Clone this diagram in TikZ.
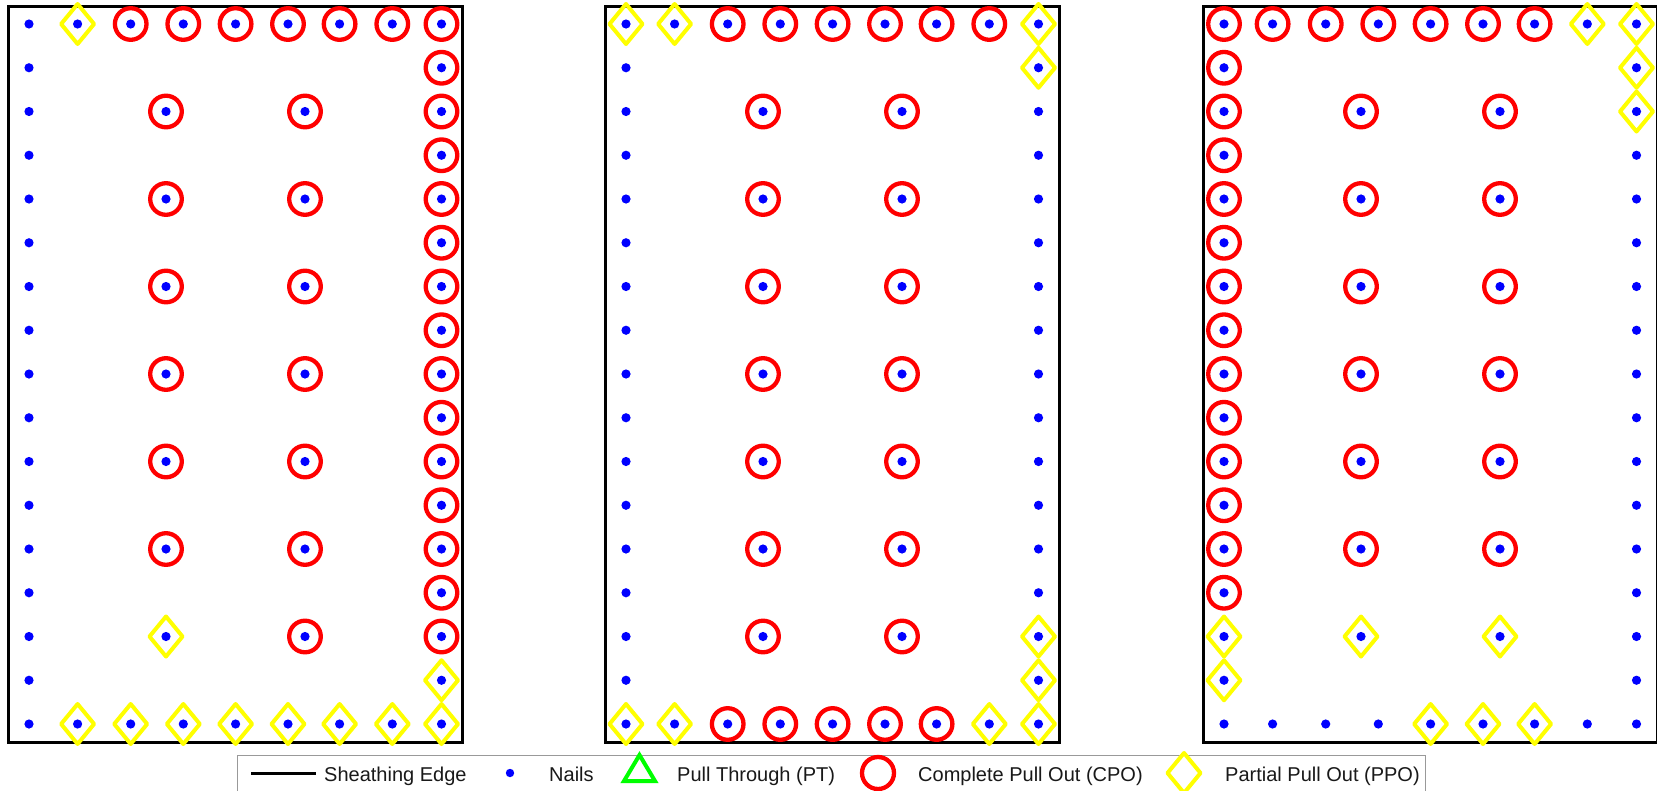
\documentclass[tikz,border=0pt]{standalone}
\usepackage{fontspec}
\setmainfont{Liberation Sans}
\usepackage{tikz}
\usetikzlibrary{positioning}
\usepackage{xcolor}
\definecolor{nailblue}{HTML}{0000FF}
\definecolor{cpored}{HTML}{FF0000}
\definecolor{ppoyellow}{HTML}{FFFF00}
\definecolor{ptgreen}{HTML}{00FF00}

\tikzset{
  sheathing/.style={draw=black, line width=3pt},
  nail/.style={fill=nailblue},
  cpo/.style={draw=cpored, line width=4.3pt},
  ppo/.pic={\draw[ppoyellow, line width=4pt, line join=round] (0,-20) -- (16.5,0) -- (0,20) -- (-16.5,0) -- cycle;},
  legtext/.style={anchor=base west, inner sep=0pt, text=black!90, font=\fontsize{20}{24}\selectfont},
}

\begin{document}
\begin{tikzpicture}[x=1pt, y=-1pt]
\useasboundingbox (0,0) rectangle (1657,790);

% three sheathing panels with their nail grid
\foreach \p/\x in {a/8, b/605, c/1203}{
  \draw[sheathing] (\x,6) rectangle ++(454,736);
  \foreach \i/\cx in {0/21,1/69.6,2/122.7,3/175.3,4/227.6,5/280,6/331.6,7/384.3,8/433.5}{
    \foreach \j in {0,...,16}
      \coordinate (\p-\i-\j) at (\x+\cx, 24+43.75*\j);
  }
  \foreach \i/\cx in {u/158, v/297}{
    \foreach \j in {2,4,...,14}
      \coordinate (\p-\i-\j) at (\x+\cx, 24+43.75*\j);
  }
}

% panel a
\foreach \i in {2,...,8} \draw[cpo] (a-\i-0) circle (15.8);
\foreach \j in {1,...,14} \draw[cpo] (a-8-\j) circle (15.8);
\foreach \j in {2,4,...,12} \draw[cpo] (a-u-\j) circle (15.8);
\foreach \j in {2,4,...,14} \draw[cpo] (a-v-\j) circle (15.8);
\foreach \c in {a-1-0, a-8-15, a-u-14} \pic at (\c) {ppo};
\foreach \i in {1,...,8} \pic at (a-\i-16) {ppo};

% panel b
\foreach \i in {2,...,7} \draw[cpo] (b-\i-0) circle (15.8);
\foreach \i in {2,...,6} \draw[cpo] (b-\i-16) circle (15.8);
\foreach \j in {2,4,...,14} {
  \draw[cpo] (b-u-\j) circle (15.8);
  \draw[cpo] (b-v-\j) circle (15.8);
}
\foreach \c in {b-0-0, b-1-0, b-8-0, b-8-1, b-8-14, b-8-15, b-0-16, b-1-16, b-7-16, b-8-16}
  \pic at (\c) {ppo};

% panel c
\foreach \i in {0,...,6} \draw[cpo] (c-\i-0) circle (15.8);
\foreach \j in {1,...,13} \draw[cpo] (c-0-\j) circle (15.8);
\foreach \j in {2,4,...,12} {
  \draw[cpo] (c-u-\j) circle (15.8);
  \draw[cpo] (c-v-\j) circle (15.8);
}
\foreach \c in {c-7-0, c-8-0, c-8-1, c-8-2, c-0-14, c-0-15, c-4-16, c-5-16, c-6-16, c-u-14, c-v-14}
  \pic at (\c) {ppo};

% nails
\foreach \p in {a,b,c}{
  \foreach \i in {0,...,8}{
    \fill[nail] (\p-\i-0) circle (4.6);
    \fill[nail] (\p-\i-16) circle (4.6);
  }
  \foreach \j in {1,...,15}{
    \fill[nail] (\p-0-\j) circle (4.6);
    \fill[nail] (\p-8-\j) circle (4.6);
  }
  \foreach \j in {2,4,...,14}{
    \fill[nail] (\p-u-\j) circle (4.6);
    \fill[nail] (\p-v-\j) circle (4.6);
  }
}

% legend
\draw[black!40, line width=0.8pt, fill=white] (237,755) rectangle (1425,792);
\draw[sheathing] (251,773) -- (316,773);
\node[legtext] (edge-txt) at (324,781) {Sheathing Edge};
\fill[nail] (510,773) circle (4.2);
\node[legtext] (nail-txt) at (549,781) {Nails};
\draw[ptgreen, line width=4pt] (639.5,755) -- (655,781) -- (624,781) -- cycle;
\node[legtext] (pt-txt) at (677,781) {Pull Through (PT)};
\draw[cpo] (878,773) circle (16);
\node[legtext] (cpo-txt) at (918,781) {Complete Pull Out (CPO)};
\pic at (1184,773) {ppo};
\node[legtext] (ppo-txt) at (1225,781) {Partial Pull Out (PPO)};
\end{tikzpicture}
\end{document}
